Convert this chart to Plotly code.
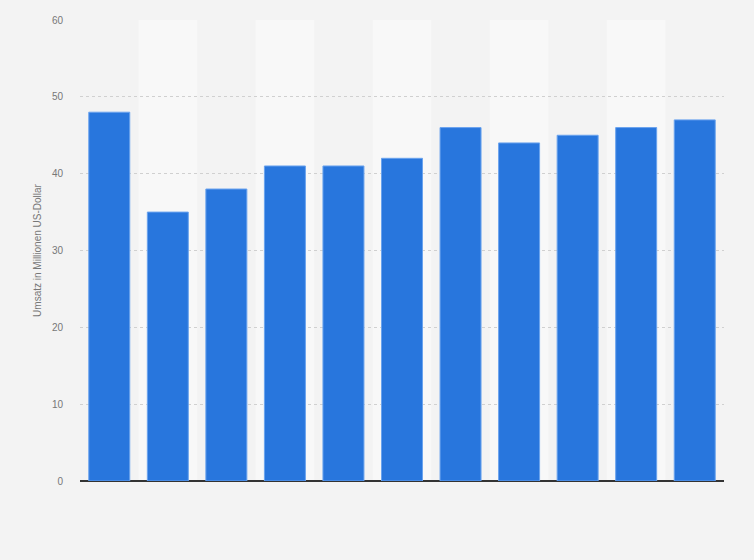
import plotly.graph_objects as go

# Daten (Kategorien ohne sichtbare Beschriftung)
kategorien = ["2010", "2011", "2012", "2013", "2014", "2015",
              "2016", "2017", "2018", "2019", "2020"]
umsatz = [48, 35, 38, 41, 41, 42, 46, 44, 45, 46, 47]
y_ticks = [0, 10, 20, 30, 40, 50, 60]

fig = go.Figure()

fig.add_trace(
    go.Bar(
        x=kategorien,
        y=umsatz,
        marker=dict(color="#2876dd", line=dict(color="#6aa3ee", width=1)),
        hoverinfo="y",
    )
)

# abwechselnde Hintergrundstreifen
for i, k in enumerate(kategorien):
    if i % 2 == 1:
        fig.add_shape(
            type="rect", xref="x", yref="paper",
            x0=i - 0.5, x1=i + 0.5, y0=0, y1=1,
            fillcolor="#f8f8f8", line_width=0, layer="below",
        )

fig.update_layout(
    width=754,
    height=560,
    paper_bgcolor="#f3f3f3",
    plot_bgcolor="#f3f3f3",
    margin=dict(l=80, r=30, t=20, b=79),
    bargap=0.3,
    showlegend=False,
    font=dict(family="Arial, Liberation Sans, sans-serif", color="#777777", size=10),
    xaxis=dict(
        showticklabels=False,
        showgrid=False,
        ticks="",
        range=[-0.5, len(kategorien) - 0.5],
    ),
    yaxis=dict(
        title=dict(text="Umsatz in Millionen US-Dollar", font=dict(size=10, color="#777777"), standoff=8),
        range=[0, 60],
        tickvals=y_ticks,
        tickfont=dict(size=10, color="#777777"),
        gridcolor="#d0d0d0",
        griddash="dot",
        gridwidth=1,
        zeroline=True,
        zerolinecolor="#333333",
        zerolinewidth=1.5,
        ticks="",
        ticklabelstandoff=16,
    ),
)

# Seitenrand entfernen, damit die Grafik bündig sitzt
fig.write_html(
    "out.html",
    config={"displayModeBar": False},
    post_script="document.body.style.margin='0';",
)
